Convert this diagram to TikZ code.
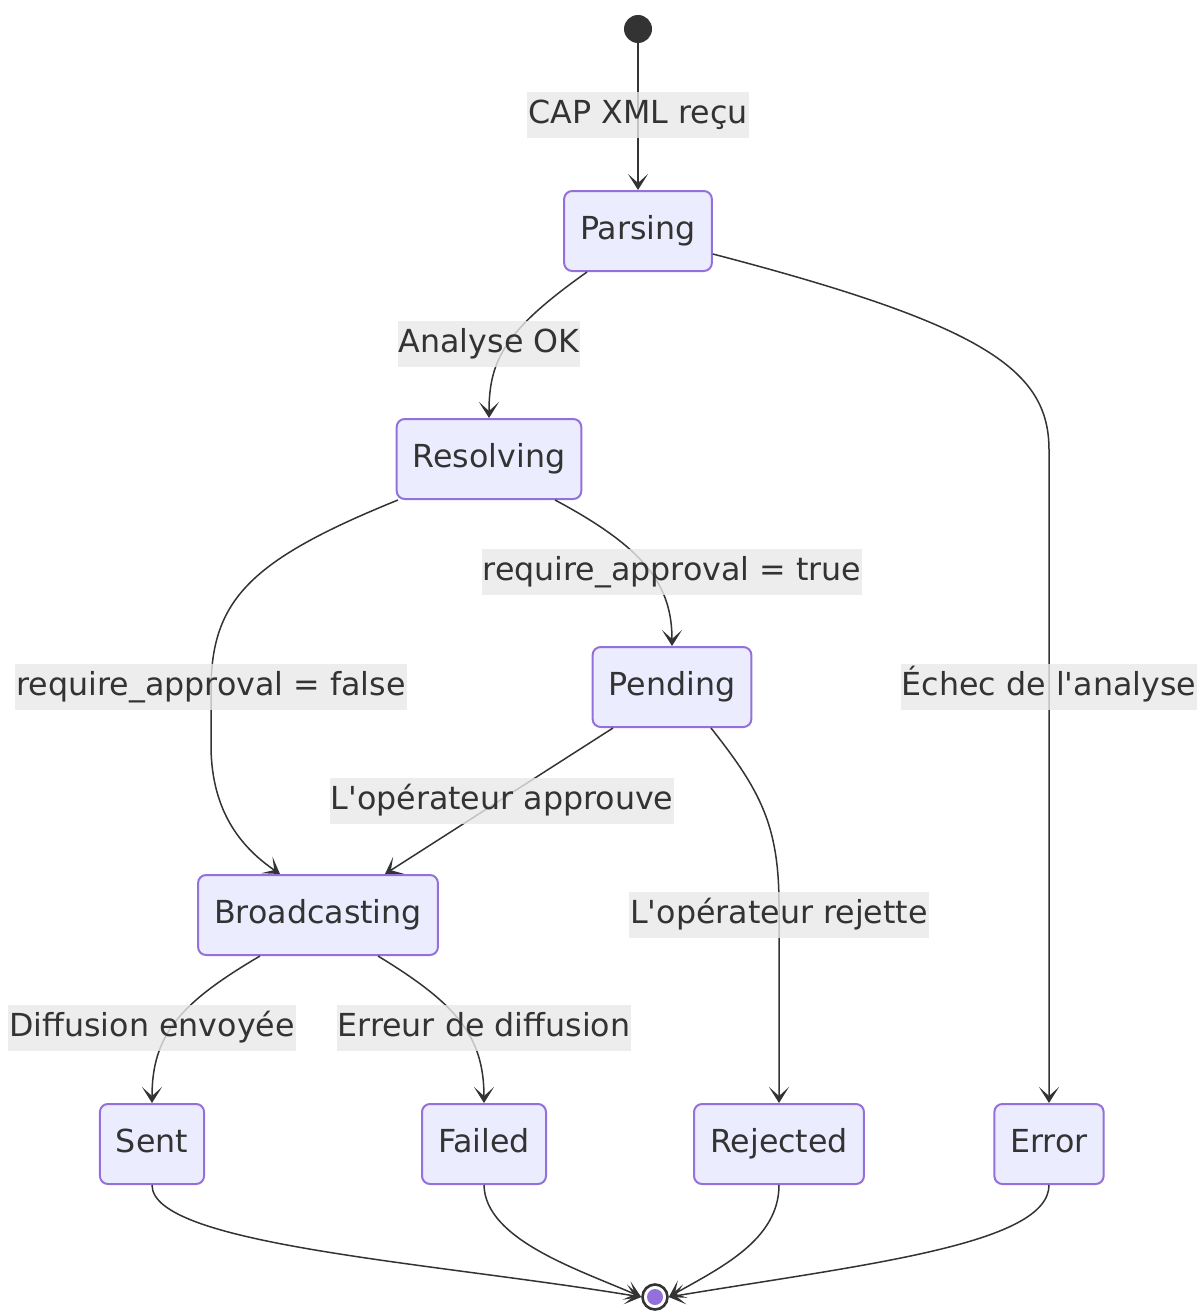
\documentclass[tikz,border=0pt]{standalone}
\usepackage{fontspec}
\setmainfont{DejaVu Sans}
\usetikzlibrary{arrows.meta,calc}
\definecolor{stateFill}{HTML}{ECECFF}
\definecolor{stateLine}{HTML}{9370DB}
\definecolor{edgeCol}{HTML}{333333}
\definecolor{lblFill}{HTML}{E8E8E8}
\begin{document}
\begin{tikzpicture}[x=0.5pt, y=-0.5pt,
  state/.style={draw=stateLine, fill=stateFill, line width=1pt, rounded corners=4pt,
                minimum height=40pt, inner xsep=8pt, text=edgeCol,
                text height=0.85em, text depth=0pt,
                font=\fontsize{15.85}{19}\selectfont},
  lbl/.style={fill=lblFill, fill opacity=0.8, text opacity=1, text=edgeCol,
              minimum height=23pt, inner xsep=0.5pt, inner ysep=0pt,
              text height=0.85em, text depth=0pt,
              font=\fontsize{15.85}{19}\selectfont},
  arr/.style={-{Stealth[length=8pt, width=10pt, inset=4.5pt]}, draw=edgeCol, line width=0.75pt}]
\useasboundingbox (0,0) rectangle (1201,1311);
% states
\node[circle, fill=edgeCol, minimum size=14pt, inner sep=0pt] (start) at (638,29) {};
\node[state] (parsing) at (638,231) {Parsing};
\node[state] (resolving) at (489,459) {Resolving};
\node[state] (pending) at (672,687) {Pending};
\node[state] (broadcasting) at (318,915) {Broadcasting};
\node[state] (sent) at (152,1144) {Sent};
\node[state] (failed) at (484,1144) {Failed};
\node[state] (rejected) at (779,1144) {Rejected};
\node[state] (error) at (1049,1144) {Error};
\node[circle, draw=edgeCol, fill=white, line width=1.3pt, minimum size=12.5pt, inner sep=0pt] (final) at (655,1297) {};
\node[circle, fill=stateLine, minimum size=8pt, inner sep=0pt] at (final) {};
% transitions
\draw[arr] (start) -- (parsing);
\draw[arr] ($(parsing.south)+(-51,0)$) .. controls (505,330) and (489,360) .. (resolving.north);
\draw[arr] ($(parsing.east)+(0,23)$) .. controls (985,325) and (1049,370) .. (1049,450) -- (error.north);
\draw[arr] ($(resolving.south)+(66,0)$) .. controls (645,548) and (672,585) .. (pending.north);
\draw[arr] ($(resolving.south)+(-91,0)$) .. controls (250,560) and (211,600) .. (211,690)
  -- (211,745) .. controls (211,815) and (245,850) .. ($(broadcasting.north)+(-38,0)$);
\draw[arr] ($(pending.south)+(-59,0)$) -- ($(broadcasting.north)+(67,0)$);
\draw[arr] ($(pending.south)+(39,0)$) .. controls (760,790) and (779,825) .. (779,905) -- (rejected.north);
\draw[arr] ($(broadcasting.south)+(-58,0)$) .. controls (180,1003) and (152,1035) .. (sent.north);
\draw[arr] ($(broadcasting.south)+(60,0)$) .. controls (455,1003) and (484,1035) .. (failed.north);
\draw[arr] (sent.south) .. controls (152,1245) and (430,1262) .. (final.west);
\draw[arr] (failed.south) .. controls (485,1240) and (580,1270) .. (final.west);
\draw[arr] (rejected.south) .. controls (779,1240) and (720,1268) .. (final.east);
\draw[arr] (error.south) .. controls (1049,1245) and (860,1265) .. (final.east);
% labels
\node[lbl] (l1) at (638,115) {CAP XML reçu};
\node[lbl] (l2) at (489,344) {Analyse OK};
\node[lbl] (l3) at (672,572) {require\_approval = true};
\node[lbl] (l4) at (211,687) {require\_approval = false};
\node[lbl] (l5) at (1049,687) {Échec de l\textquotesingle analyse};
\node[lbl] (l6) at (502,801) {L\textquotesingle opérateur approuve};
\node[lbl] (l7) at (779,915) {L\textquotesingle opérateur rejette};
\node[lbl] (l8) at (152,1028) {Diffusion envoyée};
\node[lbl] (l9) at (484,1028) {Erreur de diffusion};
\end{tikzpicture}
\end{document}
